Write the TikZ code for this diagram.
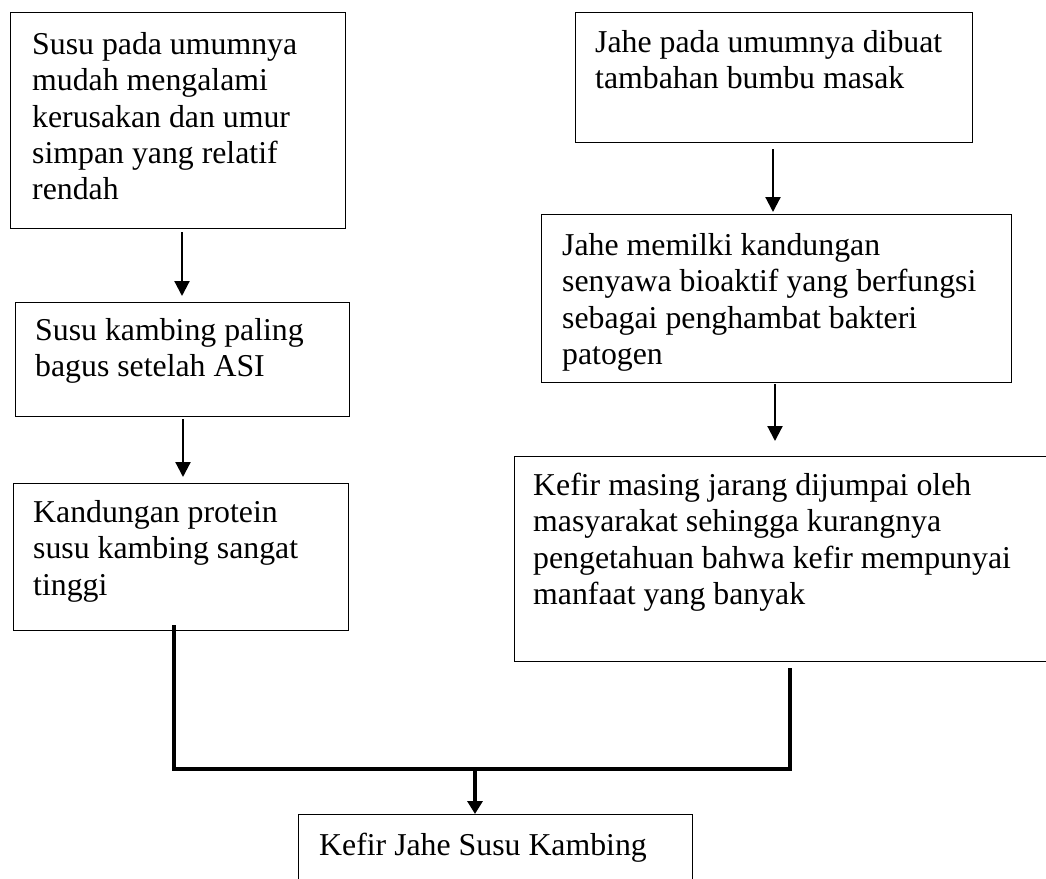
\documentclass[tikz,border=0pt]{standalone}
\usepackage{fontspec}
\setmainfont{Liberation Serif}
\usetikzlibrary{arrows.meta,calc}
\begin{document}
\begin{tikzpicture}[x=1pt,y=-1pt,
  box/.style={draw=black,line width=1.2pt,rectangle,inner sep=0pt,anchor=north west},
  txt/.style={anchor=north west,inner sep=0pt,align=left,font=\fontsize{31.8}{36.4}\selectfont},
  arr/.style={line width=2.2pt,-{Triangle[length=15pt,width=15pt]}},
  thickline/.style={line width=3.6pt},
  jarr/.style={line width=3.6pt,-{Triangle[length=13pt,width=15pt]}}]
\clip (0,0) rectangle (1046,878);
\fill[white] (0,0) rectangle (1046,878);
% boxes
\node[box,minimum width=335pt,minimum height=216pt] (s1) at (10,12) {};
\node[box,minimum width=334pt,minimum height=114pt] (s2) at (15,302) {};
\node[box,minimum width=335pt,minimum height=147pt] (s3) at (13,483) {};
\node[box,minimum width=397pt,minimum height=130pt] (j1) at (575,12) {};
\node[box,minimum width=470pt,minimum height=168pt] (j2) at (541,214) {};
\node[box,minimum width=545pt,minimum height=205pt] (j3) at (514,456) {};
\node[box,minimum width=394pt,minimum height=100pt] (k) at (298,814) {};
% texts
\node[txt] (t1) at (32,29) {\rule{0pt}{25pt}Susu pada umumnya\\mudah mengalami\\kerusakan dan umur\\simpan yang relatif\\rendah};
\node[txt] (t2) at (35,315) {\rule{0pt}{25pt}Susu kambing paling\\bagus setelah ASI};
\node[txt] (t3) at (33,497) {\rule{0pt}{25pt}Kandungan protein\\susu kambing sangat\\tinggi};
\node[txt] (t4) at (595,27) {\rule{0pt}{25pt}Jahe pada umumnya dibuat\\tambahan bumbu masak};
\node[txt] (t5) at (562,230) {\rule{0pt}{25pt}Jahe memilki kandungan\\senyawa bioaktif yang berfungsi\\sebagai penghambat bakteri\\patogen};
\node[txt] (t6) at (533,470) {\rule{0pt}{25pt}Kefir masing jarang dijumpai oleh\\masyarakat sehingga kurangnya\\pengetahuan bahwa kefir mempunyai\\manfaat yang banyak};
\node[txt] (t7) at (319,830) {\rule{0pt}{25pt}Kefir Jahe Susu Kambing};
% arrows
\draw[arr] ([xshift=172pt,yshift=-3pt]s1.south west) -- ([xshift=167pt,yshift=6pt]s2.north west);
\draw[arr] ([xshift=168pt,yshift=-2pt]s2.south west) -- ([xshift=170pt,yshift=6pt]s3.north west);
\draw[arr] ([xshift=198pt,yshift=-6pt]j1.south west) -- ([xshift=232pt,yshift=2pt]j2.north west);
\draw[arr] ([xshift=234pt,yshift=-1pt]j2.south west) -- ([xshift=261pt,yshift=15pt]j3.north west);
% joining lines
\coordinate (m) at (475,769);
\draw[thickline] ([xshift=161pt,yshift=6pt]s3.south west) |- (m) -| ([xshift=276pt,yshift=-6pt]j3.south west);
\draw[jarr] (m) -- ([xshift=177pt]k.north west);
\end{tikzpicture}
\end{document}
